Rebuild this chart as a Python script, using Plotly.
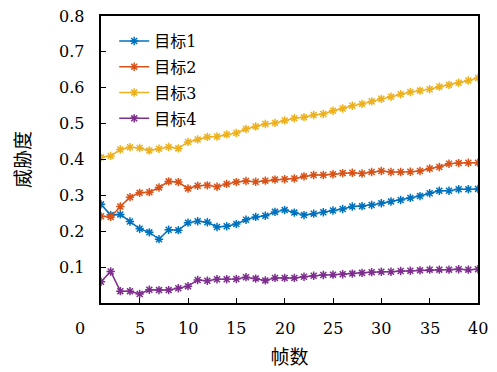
import plotly.graph_objects as go

frames = list(range(1, 41))
target1 = [0.275, 0.245, 0.247, 0.227, 0.207, 0.197, 0.178, 0.204, 0.203, 0.224,
           0.228, 0.225, 0.212, 0.214, 0.220, 0.232, 0.240, 0.243, 0.254, 0.259,
           0.252, 0.245, 0.249, 0.253, 0.258, 0.262, 0.269, 0.270, 0.273, 0.278,
           0.283, 0.287, 0.293, 0.298, 0.306, 0.313, 0.313, 0.317, 0.317, 0.318]
target2 = [0.242, 0.240, 0.269, 0.295, 0.307, 0.309, 0.322, 0.339, 0.337, 0.319,
           0.327, 0.328, 0.324, 0.332, 0.337, 0.340, 0.338, 0.341, 0.344, 0.345,
           0.347, 0.353, 0.357, 0.357, 0.359, 0.362, 0.363, 0.361, 0.365, 0.368,
           0.365, 0.365, 0.366, 0.368, 0.375, 0.379, 0.388, 0.390, 0.391, 0.391]
target3 = [0.406, 0.410, 0.428, 0.434, 0.432, 0.425, 0.430, 0.435, 0.431, 0.449,
           0.456, 0.463, 0.464, 0.470, 0.474, 0.485, 0.492, 0.499, 0.502, 0.509,
           0.515, 0.518, 0.524, 0.527, 0.536, 0.542, 0.550, 0.555, 0.562, 0.569,
           0.575, 0.582, 0.588, 0.592, 0.596, 0.603, 0.608, 0.614, 0.620, 0.627]
target4 = [0.059, 0.088, 0.033, 0.033, 0.025, 0.037, 0.036, 0.036, 0.041, 0.047,
           0.064, 0.062, 0.066, 0.066, 0.067, 0.072, 0.068, 0.063, 0.070, 0.070,
           0.070, 0.073, 0.076, 0.078, 0.079, 0.080, 0.082, 0.084, 0.086, 0.087,
           0.087, 0.089, 0.090, 0.091, 0.093, 0.093, 0.093, 0.094, 0.093, 0.094]

names = ["目标1", "目标2", "目标3", "目标4"]
colors = ["#0072BD", "#D95319", "#EDB120", "#7E2F8E"]
series = [target1, target2, target3, target4]

x_tickvals = [5, 10, 15, 20, 25, 30, 35, 40]
x_ticktext = ["5", "10", "15", "20", "25", "30", "35", "40"]
y_tickvals = [0.1, 0.2, 0.3, 0.4, 0.5, 0.6, 0.7, 0.8]
y_ticktext = ["0.1", "0.2", "0.3", "0.4", "0.5", "0.6", "0.7", "0.8"]
origin_label = "0"

FONT = "DejaVu Serif"
MIXED = "DejaVu Serif, Noto Sans CJK SC"
CJK = "Noto Sans CJK SC"

ML, MR, MT, MB = 101, 19, 16, 69
W, H = 497, 372

fig = go.Figure()
for name, col, ys in zip(names, colors, series):
    fig.add_trace(go.Scatter(
        x=frames, y=ys, name=name, legendgroup=name, mode="lines+markers",
        line=dict(color=col, width=1.5),
        marker=dict(symbol="asterisk-open", size=7, color=col,
                    line=dict(color=col, width=1.5)),
    ))

fig.update_layout(
    width=W, height=H,
    margin=dict(l=ML, r=MR, t=MT, b=MB, autoexpand=False),
    paper_bgcolor="white", plot_bgcolor="white",
    font=dict(family=FONT, size=16, color="black"),
    showlegend=True,
    legend=dict(x=0.035, y=0.972, xanchor="left", yanchor="top",
                bgcolor="rgba(255,255,255,0)", borderwidth=0,
                font=dict(family=MIXED, size=16), tracegroupgap=2,
                itemwidth=30),
    xaxis=dict(range=[1, 40], tickvals=x_tickvals, showticklabels=False,
               ticks="inside", ticklen=5, tickcolor="black", tickwidth=1,
               showline=True, linecolor="black", linewidth=1.5, mirror=True,
               showgrid=False, zeroline=False,
               title=dict(text="帧数", font=dict(family=CJK, size=19), standoff=47)),
    yaxis=dict(range=[0, 0.8], tickvals=y_tickvals, showticklabels=False,
               ticks="inside", ticklen=5, tickcolor="black", tickwidth=1,
               showline=True, linecolor="black", linewidth=1.5, mirror=True,
               showgrid=False, zeroline=False,
               title=dict(text="威胁度", font=dict(family=CJK, size=19), standoff=64)),
)

# tick labels placed through the axis scales, offset from the axis lines
for v, t in zip(x_tickvals, x_ticktext):
    fig.add_annotation(x=v, xref="x", y=0, yref="paper", text=t,
                       showarrow=False, xanchor="center", yanchor="middle",
                       yshift=-25, font=dict(family=FONT, size=16))
for v, t in zip(y_tickvals, y_ticktext):
    fig.add_annotation(x=0, xref="paper", y=v, yref="y", text=t,
                       showarrow=False, xanchor="right", yanchor="middle",
                       xshift=-15, font=dict(family=FONT, size=16))
fig.add_annotation(x=0, xref="paper", y=0, yref="paper", text=origin_label,
                   showarrow=False, xanchor="center", yanchor="middle",
                   xshift=-21, yshift=-25, font=dict(family=FONT, size=16))

fig.write_html("out.html", config={"displayModeBar": False},
               post_script="document.body.style.margin='0';document.body.style.padding='0';")
